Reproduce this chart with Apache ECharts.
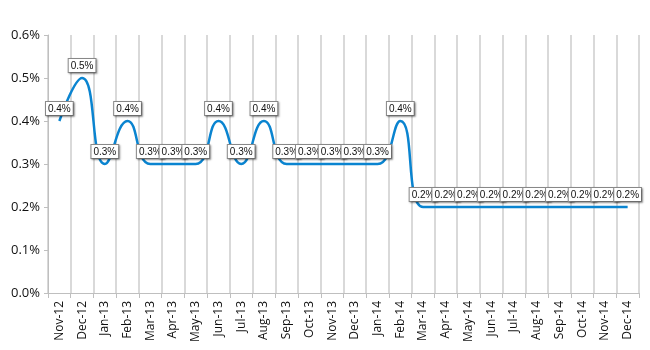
<!DOCTYPE html>
<html>
<head>
<meta charset="utf-8">
<script src="https://cdn.jsdelivr.net/npm/echarts@6/dist/echarts.min.js"></script>
<style>
  html, body { margin: 0; padding: 0; background: #fff; }
  #chart { width: 650px; height: 350px; }
</style>
</head>
<body>
<div id="chart"></div>
<script>
// Monthly rate, Nov 2012 – Dec 2014 (percent)
const months = [
  'Nov-12', 'Dec-12',
  'Jan-13', 'Feb-13', 'Mar-13', 'Apr-13', 'May-13', 'Jun-13',
  'Jul-13', 'Aug-13', 'Sep-13', 'Oct-13', 'Nov-13', 'Dec-13',
  'Jan-14', 'Feb-14', 'Mar-14', 'Apr-14', 'May-14', 'Jun-14',
  'Jul-14', 'Aug-14', 'Sep-14', 'Oct-14', 'Nov-14', 'Dec-14'
];
const rates = [
  0.4, 0.5,
  0.3, 0.4, 0.3, 0.3, 0.3, 0.4,
  0.3, 0.4, 0.3, 0.3, 0.3, 0.3,
  0.3, 0.4, 0.2, 0.2, 0.2, 0.2,
  0.2, 0.2, 0.2, 0.2, 0.2, 0.2
];
const yMin = 0, yMax = 0.6, yStep = 0.1;

const chart = echarts.init(document.getElementById('chart'));
chart.setOption({
  animation: false,
  grid: { left: 48, right: 11, top: 35, bottom: 57 },
  xAxis: {
    type: 'category',
    data: months,
    boundaryGap: true,
    axisLine: { lineStyle: { color: '#bfbfbf', width: 1 } },
    axisTick: { show: true, length: 5, lineStyle: { color: '#bfbfbf' } },
    splitLine: { show: true, lineStyle: { color: '#d9d9d9', width: 2 } },
    axisLabel: {
      rotate: 90,
      interval: 0,
      margin: 8,
      color: '#111',
      fontSize: 12,
      fontFamily: '"Open Sans", "Liberation Sans", sans-serif'
    }
  },
  yAxis: {
    type: 'value',
    min: yMin, max: yMax, interval: yStep,
    axisLine: { show: true, lineStyle: { color: '#bfbfbf', width: 1 } },
    axisTick: { show: true, length: 4, lineStyle: { color: '#bfbfbf' } },
    splitLine: { show: false },
    axisLabel: {
      color: '#111',
      fontSize: 13,
      margin: 8,
      fontFamily: '"Open Sans", "Liberation Sans", sans-serif',
      formatter: v => v.toFixed(1) + '%'
    }
  },
  series: [{
    type: 'line',
    data: rates,
    smooth: 0.5,
    symbol: 'circle',
    symbolSize: 0,
    showSymbol: true,
    lineStyle: { color: '#0a84d0', width: 2.5 },
    itemStyle: { color: '#0a84d0' },
    label: {
      show: true,
      position: 'top',
      distance: 6,
      formatter: p => p.value.toFixed(1) + '%',
      fontSize: 10,
      color: '#111',
      fontFamily: '"Liberation Sans", sans-serif',
      backgroundColor: '#fff',
      borderColor: '#8c8c8c',
      borderWidth: 1,
      padding: [2, 2, 1, 2],
      shadowColor: 'rgba(0,0,0,0.35)',
      shadowBlur: 2,
      shadowOffsetX: 1,
      shadowOffsetY: 1
    },
    labelLayout: { hideOverlap: false }
  }]
});
</script>
</body>
</html>
